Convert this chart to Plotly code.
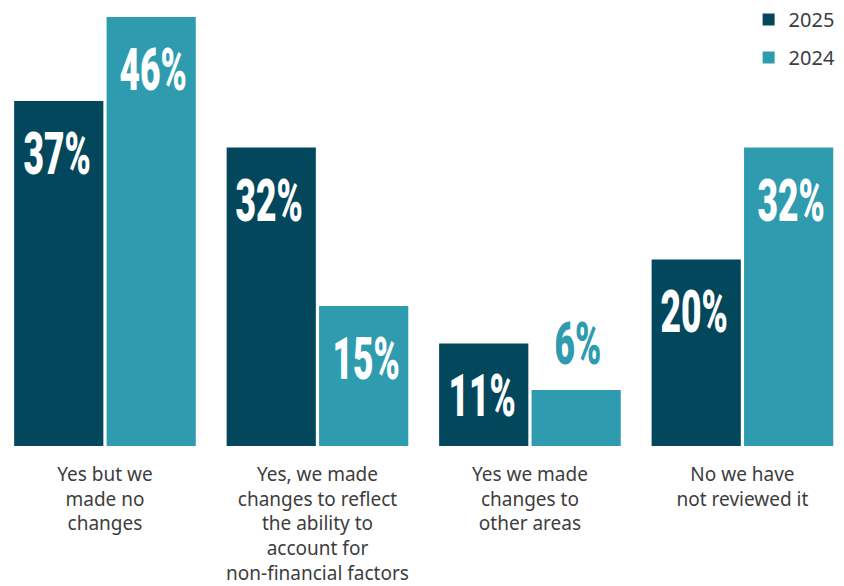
import plotly.graph_objects as go

categories = [
    "Yes but we<br>made no<br>changes",
    "Yes, we made<br>changes to reflect<br>the ability to<br>account for<br>non-financial factors",
    "Yes we made<br>changes to<br>other areas",
    "No we have<br>not reviewed it",
]
series_names = ["2025", "2024"]
values_2025 = [37, 32, 11, 20]
values_2024 = [46, 15, 6, 32]

color_2025 = "#03475C"
color_2024 = "#2E9BAF"
label_font = "Roboto, sans-serif"
text_font = "Noto Sans, sans-serif"
text_color = "#3d3d3d"

x_idx = list(range(len(categories)))

fig = go.Figure()
for name, vals, col, grp in [
    (series_names[0], values_2025, color_2025, "a"),
    (series_names[1], values_2024, color_2024, "b"),
]:
    fig.add_trace(go.Bar(
        x=x_idx, y=vals, name=name, marker_color=col,
        marker_line_width=0, legendgroup=grp,
        hoverinfo="skip",
    ))

# value labels: inside the top of the bar, or above it when the bar is short
bar_offset = 0.2275
for vals, col, dx in [(values_2025, color_2025, -bar_offset), (values_2024, color_2024, bar_offset)]:
    for i, v in enumerate(vals):
        inside = v >= 10
        fig.add_annotation(
            x=i + dx, y=v, xref="x", yref="y",
            text=f"{v}%", showarrow=False,
            yanchor="top" if inside else "bottom",
            yshift=-16 if inside else 10,
            font=dict(family=label_font, size=59, weight=900,
                      color="white" if inside else col),
        )

fig.update_layout(
    width=844, height=586,
    margin=dict(l=0, r=0, t=0, b=140, autoexpand=False),
    paper_bgcolor="white", plot_bgcolor="white",
    barmode="group", bargap=0.13, bargroupgap=0.035,
    showlegend=True,
    legend=dict(
        x=0.996, xanchor="right", y=1.0, yanchor="top",
        font=dict(family=text_font, size=20, color=text_color),
        traceorder="grouped", tracegroupgap=9,
        itemwidth=30, bgcolor="rgba(0,0,0,0)",
    ),
    xaxis=dict(
        tickmode="array", tickvals=x_idx, ticktext=categories,
        range=[-0.494, 3.478], showgrid=False, zeroline=False,
        showline=False, ticks="", ticklabelstandoff=15, automargin=False,
        tickfont=dict(family=text_font, size=19, color=text_color),
    ),
    yaxis=dict(range=[0, 47.82], visible=False, showgrid=False, zeroline=False,
               automargin=False),
)

# condensed look for the percentage labels
condense_js = """
document.querySelectorAll('.annotation-text-g text.annotation-text').forEach(function (t) {
  if (/%$/.test(t.textContent)) {
    t.style.transformBox = 'fill-box';
    t.style.transformOrigin = 'center';
    t.style.transform = 'scaleX(0.6)';
  }
});
"""

fig.write_html("out.html", post_script=condense_js)
